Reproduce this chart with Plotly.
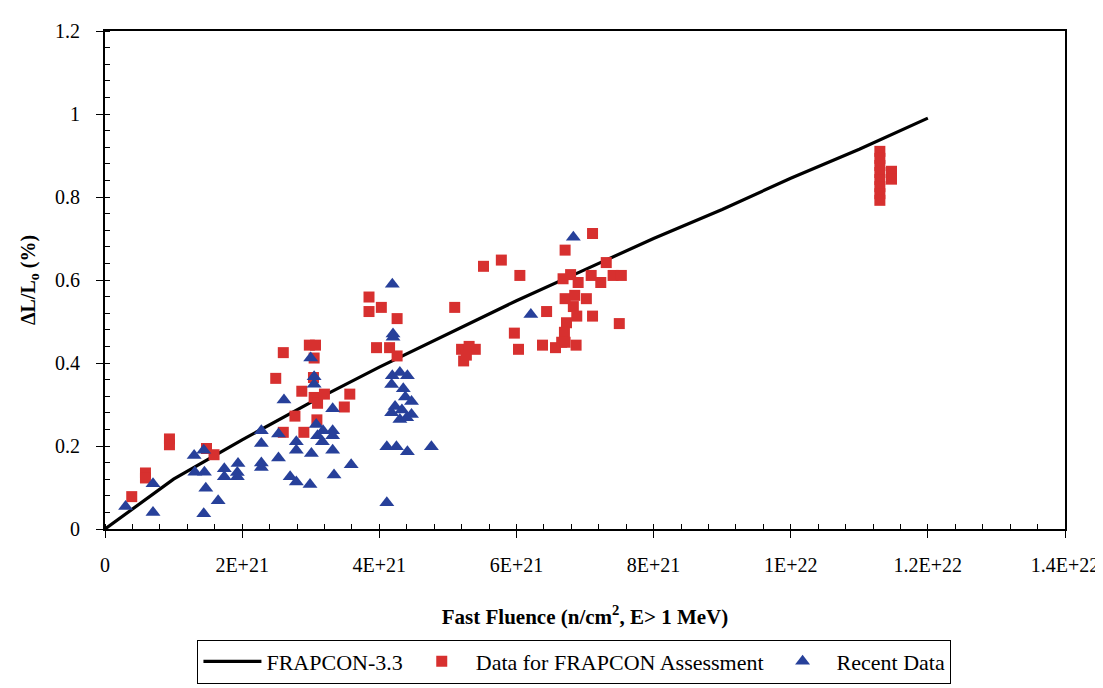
import plotly.graph_objects as go

# FRAPCON-3.3 model curve (fluence in units of 1E21 n/cm2)
model_x = [0, 1, 2, 3, 4, 5, 6, 7, 8, 9, 10, 11, 12]
model_y = [0, 0.12, 0.215, 0.305, 0.39, 0.47, 0.55, 0.625, 0.70, 0.77, 0.845, 0.915, 0.99]

# Data for FRAPCON Assessment (red squares)
assess_x = [0.39, 0.59, 0.59, 0.94, 0.94, 1.48, 1.59, 2.60, 2.77, 2.60, 2.49, 2.98, 3.07,
            3.05, 3.04, 2.87, 3.05, 3.10, 3.20, 3.57, 3.49, 3.09, 2.90, 3.85, 3.85, 4.03,
            4.26, 3.96, 4.15, 4.26, 5.10, 5.52, 5.78, 6.05, 5.20, 5.31, 5.40, 5.23, 5.27,
            6.44, 5.97, 6.03, 6.38, 6.57, 6.87, 7.11, 6.71, 7.31, 6.68, 6.79, 6.90, 7.09,
            7.23, 7.41, 7.53, 6.71, 6.85, 7.02, 6.83, 6.88, 7.11, 6.73, 7.50, 6.70, 6.66,
            6.71, 11.3, 11.3, 11.3, 11.3, 11.3, 11.3, 11.3, 11.3, 11.47, 11.47]
assess_y = [0.078, 0.135, 0.123, 0.217, 0.203, 0.194, 0.179, 0.233, 0.272, 0.425, 0.363,
            0.443, 0.443, 0.412, 0.365, 0.332, 0.317, 0.303, 0.325, 0.325, 0.294, 0.263,
            0.233, 0.559, 0.524, 0.534, 0.507, 0.437, 0.437, 0.417, 0.534, 0.633, 0.648,
            0.611, 0.433, 0.440, 0.433, 0.405, 0.419, 0.524, 0.472, 0.433, 0.443, 0.437,
            0.443, 0.712, 0.672, 0.642, 0.603, 0.613, 0.594, 0.611, 0.594, 0.611, 0.611,
            0.555, 0.563, 0.555, 0.536, 0.513, 0.513, 0.497, 0.495, 0.474, 0.450, 0.450,
            0.910, 0.893, 0.876, 0.859, 0.842, 0.825, 0.808, 0.792, 0.862, 0.843]

# Recent Data (blue triangles)
recent_x = [0.30, 0.70, 0.70, 1.30, 1.44, 1.31, 1.45, 1.47, 1.44, 1.65, 1.74, 1.74, 1.94,
            1.93, 1.93, 2.28, 2.28, 2.28, 2.28, 2.53, 2.53, 2.70, 2.79, 2.79, 2.79, 2.61,
            3.00, 3.05, 3.05, 3.32, 3.08, 3.18, 3.32, 3.32, 3.10, 3.17, 3.01, 3.32, 3.59,
            3.34, 2.99, 4.19, 4.20, 4.20, 4.30, 4.41, 4.19, 4.18, 4.35, 4.38, 4.47, 4.23,
            4.33, 4.18, 4.47, 4.30, 4.40, 4.11, 4.25, 4.41, 4.76, 4.11, 6.21, 6.83]
recent_y = [0.054, 0.109, 0.040, 0.177, 0.190, 0.137, 0.137, 0.098, 0.037, 0.068, 0.145,
            0.126, 0.158, 0.136, 0.126, 0.237, 0.206, 0.159, 0.148, 0.229, 0.171, 0.126,
            0.210, 0.190, 0.113, 0.311, 0.412, 0.367, 0.349, 0.290, 0.252, 0.237, 0.237,
            0.225, 0.225, 0.210, 0.182, 0.190, 0.155, 0.130, 0.107, 0.590, 0.470, 0.462,
            0.377, 0.369, 0.369, 0.348, 0.338, 0.318, 0.307, 0.295, 0.287, 0.280, 0.276,
            0.264, 0.268, 0.198, 0.198, 0.186, 0.198, 0.063, 0.517, 0.703]

x_tickvals = [0, 2e21, 4e21, 6e21, 8e21, 1e22, 1.2e22, 1.4e22]
x_ticktext = ["0", "2E+21", "4E+21", "6E+21", "8E+21", "1E+22", "1.2E+22", "1.4E+22"]
y_tickvals = [0, 0.2, 0.4, 0.6, 0.8, 1.0, 1.2]
y_ticktext = ["0", "0.2", "0.4", "0.6", "0.8", "1", "1.2"]

E21 = 1e21
FONT = "Times New Roman, Liberation Serif, DejaVu Serif"

fig = go.Figure()
fig.add_trace(go.Scatter(
    x=[v * E21 for v in model_x], y=model_y, mode="lines",
    line=dict(color="black", width=3.2), name="FRAPCON-3.3"))
fig.add_trace(go.Scatter(
    x=[v * E21 for v in assess_x], y=assess_y, mode="markers",
    marker=dict(symbol="square", size=11, color="#d7302f"),
    name="Data for FRAPCON Assessment"))
fig.add_trace(go.Scatter(
    x=[v * E21 for v in recent_x], y=recent_y, mode="markers",
    marker=dict(symbol="triangle-up", size=13, color="#27409a"),
    name="Recent Data"))

fig.update_layout(
    width=1103, height=688,
    margin=dict(l=97, r=46, t=15, b=158),
    paper_bgcolor="white", plot_bgcolor="white",
    font=dict(family=FONT, size=20, color="black"),
    showlegend=True,
    legend=dict(orientation="h", x=0.489, xanchor="center", y=-0.222, yanchor="top",
                bordercolor="black", borderwidth=1, font=dict(family=FONT, size=22),
                itemwidth=58, tracegroupgap=0),
    xaxis=dict(range=[0, 1.4e22], tickvals=x_tickvals, ticktext=x_ticktext,
               tickfont=dict(family=FONT, size=20),
               showgrid=False, zeroline=False, showline=True, linecolor="black",
               linewidth=2, mirror=True, ticks="outside", ticklen=7, tickcolor="black",
               ticklabelstandoff=10,
               minor=dict(ticks="inside", ticklen=5, dtick=4e20, tick0=0,
                          tickcolor="black", showgrid=False),
               title=dict(text="<b>Fast Fluence (n/cm<sup>2</sup>, E> 1 MeV)</b>",
                          font=dict(family=FONT, size=21), standoff=34)),
    yaxis=dict(range=[0, 1.2], tickvals=y_tickvals, ticktext=y_ticktext,
               tickfont=dict(family=FONT, size=20),
               showgrid=False, zeroline=False, showline=True, linecolor="black",
               linewidth=2, mirror=True, ticks="outside", ticklen=7, tickcolor="black",
               ticklabelstandoff=12,
               minor=dict(ticks="inside", ticklen=5, dtick=0.04, tick0=0,
                          tickcolor="black", showgrid=False),
               title=dict(text="<b>ΔL/L<sub>o</sub> (%)</b>",
                          font=dict(family=FONT, size=20), standoff=14)),
)

fig.write_html("out.html")
